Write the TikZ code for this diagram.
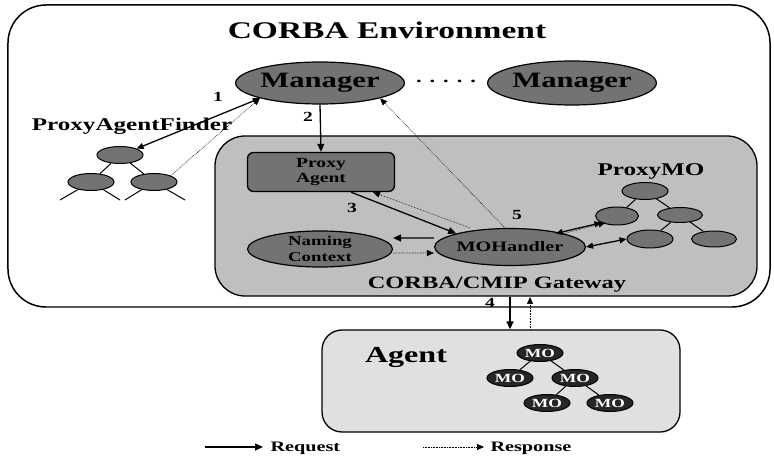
\documentclass[tikz,border=0pt]{standalone}
\usepackage{fontspec}
\setmainfont{Liberation Serif}[FakeStretch=1.4]
\usetikzlibrary{arrows.meta,shapes.geometric}
\newcommand{\fsz}[1]{\bfseries\fontsize{#1}{#1}\selectfont}
\newcommand{\fszz}[2]{\bfseries\fontsize{#1}{#2}\selectfont}
\begin{document}
\begin{tikzpicture}[x=1bp,y=-1bp,
  darkell/.style={ellipse,draw=black,line width=1.2pt,fill=black!55,inner sep=0pt},
  smallell/.style={ellipse,draw=black,line width=1pt,fill=black!55,minimum width=46bp,minimum height=17bp,inner sep=0pt},
  moell/.style={ellipse,draw=black,line width=1pt,fill=black!85,minimum width=46bp,minimum height=17bp,inner sep=0pt,text=white,font=\fsz{12.5}},
  req/.style={line width=1.3pt,-{Triangle[length=8bp,width=7bp]}},
  reqboth/.style={line width=1.3pt,{Triangle[length=7bp,width=6bp]}-{Triangle[length=7bp,width=6bp]}},
  resp/.style={line width=0.6pt,densely dotted,-{Triangle[length=7bp,width=6bp]}},
  lbl/.style={font=\fsz{14}},
  treeline/.style={line width=1pt}]
\useasboundingbox (0,0) rectangle (774,460);
% outer box
\node[draw=black,line width=1.5pt,rounded corners=38bp,minimum width=762bp,minimum height=302bp,inner sep=0pt] (env) at (389,156) {};
\node[font=\fsz{24}] (envt) at (387,30) {CORBA Environment};
% gateway
\node[draw=black,line width=1.3pt,fill=black!25,rounded corners=30bp,minimum width=542bp,minimum height=160bp,inner sep=0pt] (gw) at (486,216) {};
\node[font=\fsz{17.5}] (gwt) at (497,285) {CORBA/CMIP Gateway};
% agent
\node[draw=black,line width=1.3pt,fill=black!12,rounded corners=20bp,minimum width=358bp,minimum height=102bp,inner sep=0pt] (ag) at (501,381) {};
\node[font=\fsz{23}] (agt) at (406,357) {Agent};
% managers
\node[darkell,minimum width=145bp,minimum height=42bp,font=\fsz{22}] (m1) at (320,83) {Manager};
\node[darkell,minimum width=148bp,minimum height=44bp,font=\fsz{22}] (m2) at (572,83) {Manager};
\node[font=\fsz{16}] (dots) at (446,81) {.\hspace{8bp}.\hspace{8bp}.\hspace{8bp}.\hspace{8bp}.};
% proxy agent finder
\node[font=\fsz{18}] (paft) at (132,126) {ProxyAgentFinder};
\node[smallell] (f0) at (120,155) {};
\node[smallell] (f1) at (91,182) {};
\node[smallell] (f2) at (154,182) {};
\coordinate (f1a) at (60,200);
\coordinate (f1b) at (120,200);
\coordinate (f2a) at (125,200);
\coordinate (f2b) at (185,200);
\draw[treeline] (f0) -- (f1) (f0) -- (f2);
\draw[treeline] (f1) -- (f1a) (f1) -- (f1b) (f2) -- (f2a) (f2) -- (f2b);
% proxy agent
\node[draw=black,line width=1.3pt,fill=black!55,rounded corners=6bp,minimum width=147bp,minimum height=39bp,inner sep=0pt,align=center,font=\fszz{14}{16}] (pa) at (321,172) {Proxy\\Agent};
% naming context
\node[darkell,minimum width=145bp,minimum height=36bp,align=center,font=\fszz{13.5}{15.5}] (nc) at (320,249) {Naming\\Context};
% MOHandler
\node[darkell,minimum width=146bp,minimum height=37bp,font=\fsz{14.5}] (moh) at (510,247) {MOHandler};
% ProxyMO tree
\node[font=\fsz{18}] (pmot) at (651,172) {ProxyMO};
\node[smallell] (p0) at (645,191) {};
\node[smallell,minimum width=43bp,minimum height=18bp] (p1) at (617,216) {};
\node[smallell,minimum width=45bp,minimum height=15bp] (p2) at (680,215) {};
\node[smallell,minimum height=18bp] (p3) at (650,239) {};
\node[smallell,minimum width=45bp,minimum height=16bp] (p4) at (714,239) {};
\draw[treeline] (p0) -- (p1) (p0) -- (p2) (p2) -- (p3) (p2) -- (p4);
% MO tree
\node[moell] (o0) at (540,353) {MO};
\node[moell] (o1) at (510,378) {MO};
\node[moell] (o2) at (575,378) {MO};
\node[moell] (o3) at (547,403) {MO};
\node[moell] (o4) at (610,403) {MO};
\draw[treeline] (o0) -- (o1) (o0) -- (o2) (o2) -- (o3) (o2) -- (o4);
% arrows
\draw[reqboth] (f0.north east) -- (m1.south west);
\node[lbl] (n1) at (218,97) {1};
\draw[resp] (f2.north east) -- (m1.south west);
\draw[req] (m1.south) -- (pa.north);
\node[lbl] (n2) at (308,117) {2};
\draw[req] ([xshift=30bp]pa.south) -- (moh.north west);
\draw[resp] ([xshift=-40bp]moh.north) -- ([xshift=52bp]pa.south);
\node[lbl] (n3) at (352,208) {3};
\draw[resp] ([xshift=-5bp]moh.north) -- (m1.south east);
\node[lbl] (n5) at (517,215) {5};
\draw[req] ([yshift=9bp]moh.west) -- ([yshift=11bp]nc.east);
\draw[resp] ([yshift=-4bp]nc.east) -- ([yshift=-6bp]moh.west);
\draw[reqboth] ([xshift=-8bp]moh.north east) -- (p1.south west);
\draw[resp] (moh.north east) -- ([xshift=4bp]p1.south west);
\draw[reqboth] (moh.east) -- (p3.west);
\coordinate (g4) at (510,297);
\coordinate (g5) at (530,297);
\draw[req] (g4) -- (g4 |- ag.north);
\draw[resp] (g5 |- ag.north) -- (g5);
\node[lbl] (n4) at (490,303) {4};
% legend
\coordinate (l1a) at (205,447);
\coordinate (l1b) at (263,447);
\coordinate (l2a) at (423,447);
\coordinate (l2b) at (484,447);
\draw[req] (l1a) -- (l1b);
\node[font=\fsz{14.5},anchor=west] (lt1) at (267,448) {Request};
\draw[resp] (l2a) -- (l2b);
\node[font=\fsz{14.5},anchor=west] (lt2) at (487,448) {Response};
\end{tikzpicture}
\end{document}
